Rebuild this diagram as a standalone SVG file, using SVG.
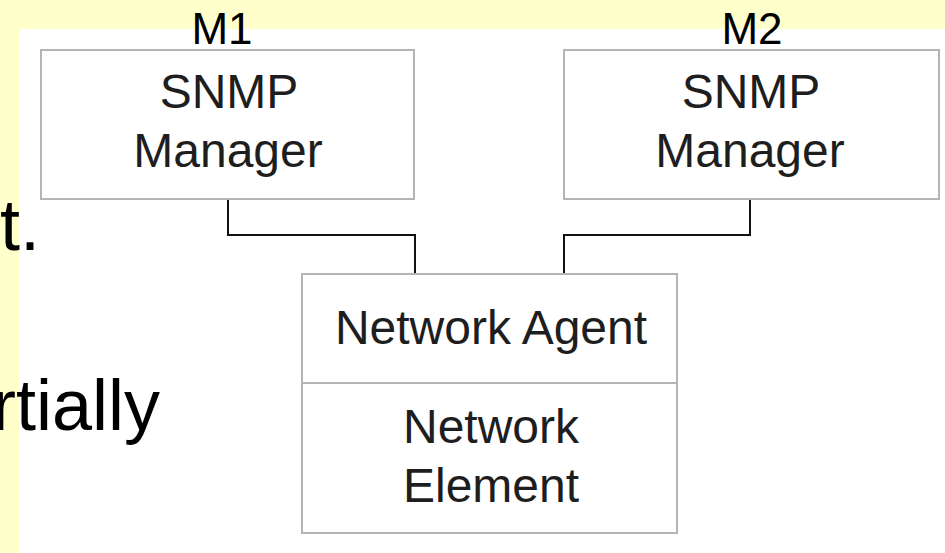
<svg xmlns="http://www.w3.org/2000/svg" width="945" height="553" viewBox="0 0 945 553">
<style>
.box{fill:#fff;stroke:#b4b4b4;stroke-width:2}
.lbl{font-family:"Liberation Sans",Arial,sans-serif;font-size:48px;fill:#1e1e1e;text-anchor:middle}
.top{font-family:"Liberation Sans",Arial,sans-serif;font-size:44px;fill:#000;text-anchor:middle}
.side{font-family:"Liberation Sans",Arial,sans-serif;font-size:72px;fill:#000;text-anchor:end}
.conn{fill:none;stroke:#111;stroke-width:2}
</style>
<rect x="0" y="0" width="945" height="553" fill="#ffffcc"/>
<rect x="19" y="29" width="926" height="524" fill="#fff"/>
<text class="side" x="40" y="250">t.</text>
<text class="side" x="160" y="430">rtially</text>
<g id="connectors">
<polyline class="conn" points="228,199 228,235 415,235 415,274"/>
<polyline class="conn" points="750,199 750,235 564,235 564,274"/>
</g>
<g id="m1">
<rect class="box" x="41" y="50" width="373" height="149"/>
<text class="top" x="222" y="44">M1</text>
<text class="lbl" x="229" y="108">SNMP</text>
<text class="lbl" x="228" y="167">Manager</text>
</g>
<g id="m2">
<rect class="box" x="564" y="50" width="375" height="149"/>
<text class="top" x="752" y="44">M2</text>
<text class="lbl" x="751" y="108">SNMP</text>
<text class="lbl" x="750" y="167">Manager</text>
</g>
<g id="agent">
<rect class="box" x="302" y="274" width="375" height="259"/>
<line x1="302" y1="383" x2="677" y2="383" stroke="#b4b4b4" stroke-width="2"/>
<text class="lbl" x="491" y="344">Network Agent</text>
<text class="lbl" x="491" y="443">Network</text>
<text class="lbl" x="491" y="502">Element</text>
</g>
</svg>
